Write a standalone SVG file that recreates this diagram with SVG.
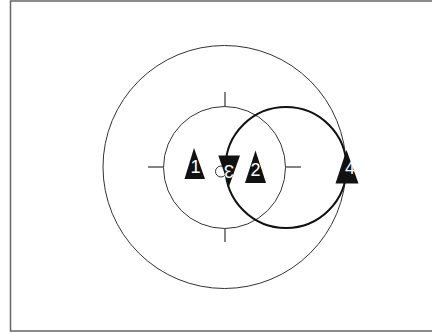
<svg xmlns="http://www.w3.org/2000/svg" width="432" height="333" viewBox="0 0 432 333">
<style>
.c{fill:none;stroke:#333;stroke-width:1}
.b{fill:none;stroke:#111;stroke-width:2}
.t{fill:#111;stroke:none}
.l{fill:#fff;font-family:"Liberation Sans",Arial,sans-serif;font-size:18px;font-weight:normal;text-anchor:middle}
.k{stroke:#333;stroke-width:1.2}
</style>
<rect x="0" y="0" width="432" height="333" fill="#fff"/>
<rect x="10.5" y="1" width="430" height="330" fill="none" stroke="#666" stroke-width="1.5"/>
<g id="connectors">
<circle class="c" cx="224.5" cy="167" r="121.5"/>
<circle class="c" cx="224.5" cy="167.5" r="61"/>
<line class="k" x1="225" y1="92" x2="225" y2="107"/>
<line class="k" x1="225" y1="228" x2="225" y2="242"/>
<line class="k" x1="148" y1="167" x2="163.5" y2="167"/>
<line class="k" x1="285.5" y1="167" x2="301" y2="167"/>
<circle class="b" cx="286" cy="167.5" r="60.5"/>
<circle cx="221" cy="171.5" r="5.5" fill="none" stroke="#333" stroke-width="1"/>
</g>
<g id="n1">
<polygon class="t" points="194,148 184.5,179 205,179"/>
<text class="l" x="195.5" y="172.5">1</text>
</g>
<g id="n2">
<polygon class="t" points="255.5,150.5 245,183 266,183"/>
<text class="l" x="255.5" y="175.5">2</text>
</g>
<g id="n3">
<polygon class="t" points="218.3,155.5 240,155.5 229,186.5"/>
<text class="l" x="229" y="177" transform="rotate(180 229 171)">3</text>
</g>
<g id="n4">
<polygon class="t" points="346.5,150 335.5,183.5 358.5,183.5"/>
<text class="l" x="350" y="174">4</text>
</g>
</svg>
